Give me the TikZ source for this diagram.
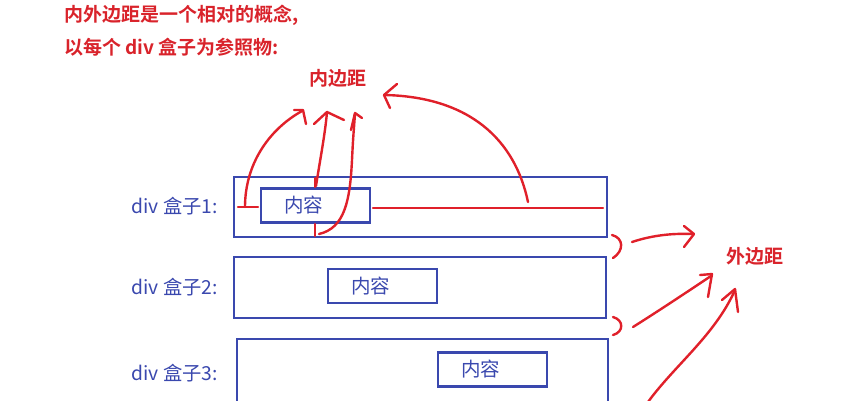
\documentclass[tikz,border=0pt]{standalone}
\usepackage{fontspec}
\setmainfont{Noto Sans CJK SC}
\newfontfamily\cjkbold{Noto Sans CJK SC Bold}
\definecolor{penred}{HTML}{E0202A}
\definecolor{titlered}{HTML}{D9232B}
\definecolor{boxblue}{HTML}{3A48AE}
\begin{document}
\begin{tikzpicture}[x=1pt,y=-1pt,
  outerbox/.style={draw=boxblue,line width=2.2pt},
  contentbox/.style={draw=boxblue,line width=2.2pt,minimum width=109pt,minimum height=34pt,inner sep=0pt},
  boxtext/.style={font=\fontsize{19.5}{19.5}\selectfont,text=boxblue,inner sep=0pt},
  rowlabel/.style={anchor=east,font=\fontsize{19.3}{19.3}\selectfont,text=boxblue,inner sep=0pt},
  redtext/.style={font=\cjkbold\fontsize{19}{19}\selectfont,text=titlered,inner sep=0pt},
  pen/.style={draw=penred,line width=2.4pt,line cap=round,line join=round}]
\useasboundingbox (0,0) rectangle (843,400);
% titles
\node[redtext,anchor=west] (t1) at (64,15) {内外边距是一个相对的概念,};
\node[redtext,anchor=west] (t2) at (64,47) {以每个 div 盒子为参照物:};
\node[redtext] (inner) at (338,78) {内边距};
\node[redtext] (outer) at (755,256) {外边距};
% boxes
\draw[outerbox] (234,177) rectangle (607,237);
\draw[outerbox] (234,257) rectangle (606,318);
\draw[outerbox] (237,339) rectangle (608,410);
\node[contentbox] (c1) at (315.5,205.5) {};
\node[contentbox] (c2) at (382.5,286) {};
\node[contentbox] (c3) at (492.5,369.5) {};
\node[boxtext] (c1t) at ([xshift=-12pt]c1.center) {内容};
\node[boxtext] (c2t) at ([xshift=-12pt]c2.center) {内容};
\node[boxtext] (c3t) at ([xshift=-12pt]c3.center) {内容};
\node[rowlabel] (l1) at (218,206) {div 盒子1:};
\node[rowlabel] (l2) at (218,287) {div 盒子2:};
\node[rowlabel] (l3) at (218,373) {div 盒子3:};
% padding markers
\draw[pen] (238,207) -- (258,207);
\draw[pen] (315,178) -- (315,187);
\draw[pen] (315,224) -- (315,236);
\draw[pen] (373,208) -- (603,208);
% padding arrows
\draw[pen] (245,207) .. controls (245,165) and (268,130) .. (302,111);
\draw[pen] (294,110) -- (303,110) -- (306,124);
\draw[pen] (316,186) .. controls (320,160) and (325,135) .. (327,112);
\draw[pen] (314,124) -- (327,112) -- (344,120);
\draw[pen] (319,234) .. controls (345,228) and (350,200) .. (352,160) .. controls (353,140) .. (355,114);
\draw[pen] (351,130) -- (355,113) -- (362,118);
\draw[pen] (528,202) .. controls (515,140) and (470,97) .. (385,95);
\draw[pen] (397,84) -- (384,95) -- (390,108);
% margin braces and arrows
\draw[pen] (612,235) .. controls (624,238) and (624,251) .. (613,258);
\draw[pen] (632,242) .. controls (650,236) and (670,233) .. (693,234);
\draw[pen] (684,226) -- (694,234) -- (684,247);
\draw[pen] (613,317) .. controls (624,320) and (624,332) .. (613,335);
\draw[pen] (633,327) .. controls (660,310) and (690,290) .. (711,276);
\draw[pen] (700,275) -- (712,274) -- (708,297);
\draw[pen] (648,402) .. controls (675,365) and (715,335) .. (735,290);
\draw[pen] (722,300) -- (735,289) -- (738,312);
\end{tikzpicture}
\end{document}
